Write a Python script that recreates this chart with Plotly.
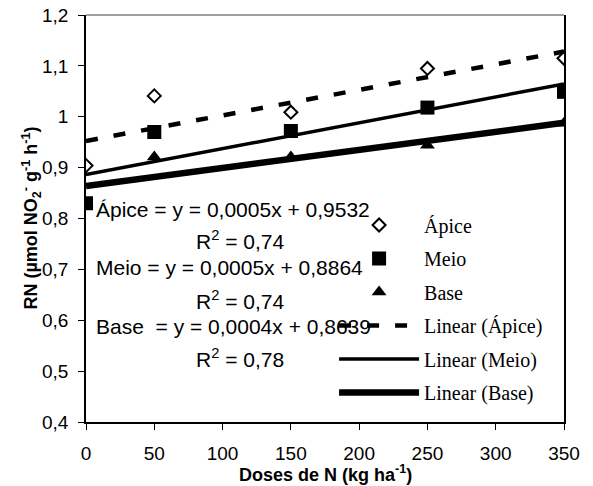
import numpy as np
import plotly.graph_objects as go

doses = [0, 50, 150, 250, 350]
apice = [0.904, 1.041, 1.009, 1.095, 1.115]
meio = [0.830, 0.970, 0.972, 1.018, 1.049]
base = [0.830, 0.921, 0.921, 0.944, 0.987]

x_ticks = [0, 50, 100, 150, 200, 250, 300, 350]
y_ticks = [0.4, 0.5, 0.6, 0.7, 0.8, 0.9, 1.0, 1.1, 1.2]
y_ticktext = ["0,4", "0,5", "0,6", "0,7", "0,8", "0,9", "1", "1,1", "1,2"]

eq_texts = ["Ápice = y = 0,0005x + 0,9532", "Meio = y = 0,0005x + 0,8864",
            "Base  = y = 0,0004x + 0,8639"]
r2_texts = ["R<sup>2</sup> = 0,74", "R<sup>2</sup> = 0,74", "R<sup>2</sup> = 0,78"]

fig = go.Figure()

legfont = dict(family="Liberation Serif", size=20, color="black")

fig.add_trace(go.Scatter(x=doses, y=apice, mode="markers", name="Ápice", legendgroup="a",
                         marker=dict(symbol="diamond", size=10, color="white",
                                     line=dict(color="black", width=2))))
fig.add_trace(go.Scatter(x=doses, y=meio, mode="markers", name="Meio", legendgroup="b",
                         marker=dict(symbol="square", size=14, color="black")))
fig.add_trace(go.Scatter(x=doses, y=base, mode="markers", name="Base", legendgroup="c",
                         marker=dict(symbol="triangle-up", size=13, color="black")))

xfit = [min(doses), max(doses)]
for nm, ys, grp, ln in [
    ("Linear (Ápice)", apice, "d", dict(color="black", width=4.5, dash="12px,16px")),
    ("Linear (Meio)", meio, "e", dict(color="black", width=3.5)),
    ("Linear (Base)", base, "f", dict(color="black", width=6.5)),
]:
    s, b = np.polyfit(doses, ys, 1)
    yfit = [s * xx + b for xx in xfit]
    fig.add_trace(go.Scatter(x=xfit, y=yfit, mode="lines", name=nm, legendgroup=grp, line=ln))

# equations
eq_y = [0.817, 0.703, 0.587]
r2_y = [0.758, 0.640, 0.526]
for t, yy in zip(eq_texts, eq_y):
    fig.add_annotation(x=0.017, xref="paper", y=yy, yref="y", text=t, showarrow=False,
                       xanchor="left", yanchor="middle",
                       font=dict(family="Arial", size=21, color="black"))
for t, yy in zip(r2_texts, r2_y):
    fig.add_annotation(x=0.322, xref="paper", y=yy, yref="y", text=t, showarrow=False,
                       xanchor="center", yanchor="middle",
                       font=dict(family="Arial", size=21, color="black"))

# axis titles
fig.add_annotation(x=0.5, xref="paper", y=-0.126, yref="paper", showarrow=False,
                   text="<b>Doses de N (kg ha<sup>-1</sup>)</b>", xanchor="center", yanchor="middle",
                   font=dict(family="Arial", size=18, color="black"))
fig.add_annotation(x=-0.115, xref="paper", y=0.5, yref="paper", showarrow=False, textangle=-90,
                   text="<b>RN (µmol NO<sub>2</sub><sup>-</sup> g<sup>-1</sup> h<sup>-1</sup>)</b>",
                   xanchor="center", yanchor="middle",
                   font=dict(family="Arial", size=18, color="black"))

fig.add_shape(type="line", xref="paper", yref="paper", x0=0, x1=1, y0=1, y1=1,
              line=dict(color="#808080", width=1.5))

fig.update_layout(
    width=585, height=478,
    margin=dict(l=78, r=29, t=7, b=64, autoexpand=False),
    paper_bgcolor="white", plot_bgcolor="white",
    showlegend=True,
    legend=dict(x=0.519, y=0.532, xanchor="left", yanchor="top", font=legfont,
                bgcolor="rgba(0,0,0,0)", itemwidth=80, tracegroupgap=4.5,
                traceorder="grouped"),
    xaxis=dict(range=[0, 350], tickvals=x_ticks, showgrid=False, zeroline=False,
               showline=True, linecolor="black", linewidth=1.5, ticks="outside",
               ticklen=6, tickcolor="black", ticklabelstandoff=7, automargin=False,
               ticklabeloverflow="allow",
               tickfont=dict(family="Arial", size=19, color="black")),
    yaxis=dict(range=[0.4, 1.2], tickvals=y_ticks, ticktext=y_ticktext, showgrid=False,
               zeroline=False, showline=True, linecolor="black", linewidth=1.5,
               mirror=True, ticks="outside", ticklen=6, tickcolor="black",
               ticklabelstandoff=6, automargin=False, ticklabeloverflow="allow",
               tickfont=dict(family="Arial", size=19, color="black")),
)

fig.write_html("out.html")
